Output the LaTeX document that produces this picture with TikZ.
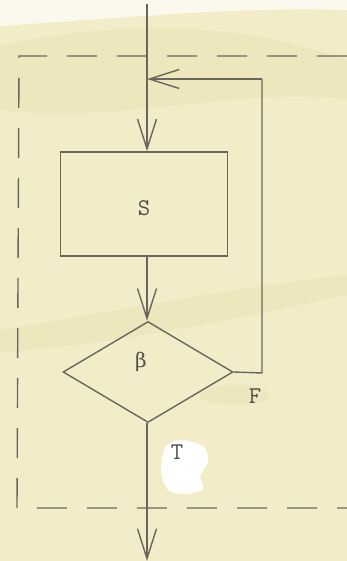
\documentclass[tikz,border=0pt]{standalone}
\usepackage{fontspec}
\newfontfamily\grk{DejaVu Serif}
\usetikzlibrary{arrows.meta,shapes.geometric}
\definecolor{paper}{RGB}{242,237,200}
\definecolor{stain}{RGB}{226,210,148}
\definecolor{ink}{RGB}{105,102,95}
\definecolor{txt}{RGB}{80,78,72}
\tikzset{
  line/.style={draw=ink,line width=1.4pt},
  vtip/.style={-{Straight Barb[length=30pt,width=19pt,line width=1.4pt]}},
  dashedframe/.style={draw=ink,line width=1.4pt,dash pattern=on 30pt off 20pt},
  lbl/.style={font=\ttfamily\fontsize{24}{24}\selectfont,text=txt,inner sep=0pt}
}
\begin{document}
\begin{tikzpicture}[x=1pt,y=-1pt]
\useasboundingbox (0,0) rectangle (347,561);
% paper
\fill[paper] (0,0) rectangle (347,561);
\fill[white,opacity=0.7] (0,0) -- (347,0) -- (347,10) .. controls (250,6) and (120,18) .. (0,26) -- cycle;
\fill[stain,opacity=0.2] (0,45) .. controls (100,25) and (220,15) .. (347,60) -- (347,100) .. controls (250,85) and (120,125) .. (0,110) -- cycle;
\fill[stain,opacity=0.2] (0,330) .. controls (120,310) and (250,285) .. (347,275) -- (347,295) .. controls (250,315) and (120,345) .. (0,352) -- cycle;
\fill[stain,opacity=0.2] (235,395) ellipse (35 and 10);
% white patch
\fill[white] plot[smooth cycle] coordinates {(166,446) (182,440) (204,447) (208,462) (200,476) (203,489) (186,494) (168,490) (161,470)};

% nodes
\node[line,rectangle,minimum width=167pt,minimum height=104pt] (S) at (144,204) {};
\node[lbl] (Slbl) at (144,208) {S};
\node[line,diamond,minimum width=170pt,minimum height=101pt,inner sep=0pt] (B) at (148,372) {};
\node[lbl,font=\grk\fontsize{20}{20}\selectfont] (Blbl) at (141,362) {β};
\node[lbl] (F) at (255,396) {F};
\node[lbl] (T) at (177,452) {T};

\coordinate (top) at (147,4);
\coordinate (j) at (147,79);
\coordinate (rt) at (262,79);
\coordinate (rb) at (262,373);
\coordinate (bot) at (147,561);

% connectors
\draw[line,vtip] (top) -- (top |- S.north);
\draw[line,vtip] (S.south -| top) -- (B.north -| top);
\draw[line] (B.east) -- (rb) -- (rt);
\draw[line,vtip] (rt) -- (j);
\draw[line,vtip] (B.south -| top) -- (bot);

% dashed frame
\draw[dashedframe] (347,56) -- (19,56) -- (17,508) -- (347,508);
\end{tikzpicture}
\end{document}
